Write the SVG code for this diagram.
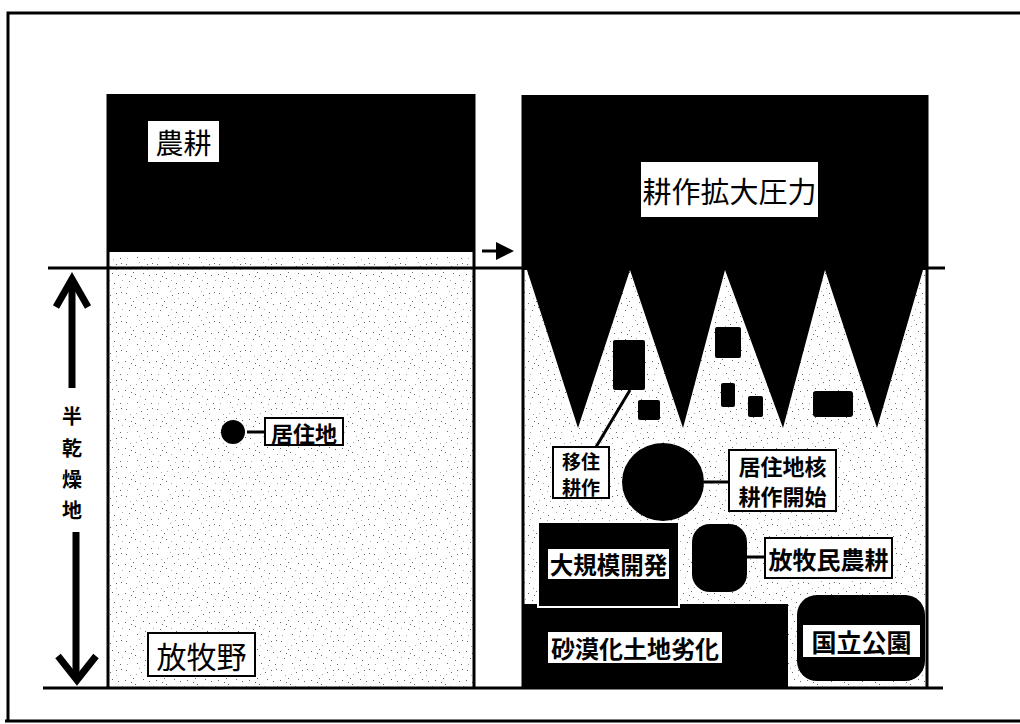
<svg xmlns="http://www.w3.org/2000/svg" width="1020" height="724" viewBox="0 0 1020 724">
<style>
.t{font-family:"Noto Sans CJK JP","Noto Sans CJK SC",sans-serif;text-anchor:middle;dominant-baseline:central;fill:#000}
.b{font-weight:bold}
.lbl{fill:#fff;stroke:#000;stroke-width:2}
.wb{fill:#fff}
.blk{fill:#000}
.ln{stroke:#000;stroke-width:3;fill:none}
</style>
<defs>
<pattern id="stip" width="31" height="29" patternUnits="userSpaceOnUse">
<rect width="31" height="29" fill="#fff"/>
<g fill="#666">
<rect x="2" y="3" width="1" height="1"/><rect x="9" y="11" width="1" height="1"/><rect x="17" y="5" width="1" height="1"/>
<rect x="25" y="14" width="1" height="1"/><rect x="5" y="20" width="1" height="1"/><rect x="13" y="25" width="1" height="1"/>
<rect x="21" y="22" width="1" height="1"/><rect x="28" y="2" width="1" height="1"/><rect x="11" y="17" width="1" height="1"/>
<rect x="19" y="12" width="1" height="1"/><rect x="27" y="26" width="1" height="1"/><rect x="1" y="13" width="1" height="1"/>
<rect x="7" y="15" width="1" height="1"/><rect x="23" y="3" width="1" height="1"/>
</g>
<g fill="#aaa">
<rect x="6" y="8" width="1" height="1"/><rect x="15" y="1" width="1" height="1"/><rect x="23" y="8" width="1" height="1"/>
<rect x="3" y="26" width="1" height="1"/><rect x="16" y="19" width="1" height="1"/><rect x="29" y="19" width="1" height="1"/>
<rect x="12" y="7" width="1" height="1"/><rect x="20" y="27" width="1" height="1"/>
</g>
</pattern>
<marker id="ah" markerWidth="6" markerHeight="6" refX="3" refY="3" orient="auto" markerUnits="strokeWidth">
<path d="M0,0 L6,3 L0,6 z" fill="#000"/>
</marker>
</defs>
<rect width="1020" height="724" fill="#fff"/>
<!-- outer frame -->
<g id="frame" class="ln">
<path d="M8,722 V13 H1020"/>
<path d="M5,721 H1020"/>
</g>
<!-- left panel -->
<g id="left-panel">
<rect x="108" y="256" width="366" height="431" fill="url(#stip)"/>
<rect x="107" y="94" width="368" height="158" class="blk"/>
<path d="M108,94 V688 M474,94 V688" class="ln"/>
</g>
<g id="node-nouko">
<rect x="148" y="121" width="71" height="41" class="wb"/>
<text x="183.5" y="141.5" class="t" font-size="28">農耕</text>
</g>
<g id="node-kyojuchi">
<circle cx="233" cy="432" r="12" class="blk"/>
<rect x="265" y="418" width="78" height="27" class="lbl"/>
<text x="304" y="431.5" class="t b" font-size="22">居住地</text>
</g>
<g id="node-houbokuya">
<rect x="148" y="633" width="107" height="43" class="lbl"/>
<text x="201.5" y="654.5" class="t" font-size="30">放牧野</text>
</g>
<!-- right panel -->
<g id="right-panel">
<rect x="523" y="268" width="404" height="419" fill="url(#stip)"/>
<path class="blk" d="M522,95 H927 V270 H923 L877,428 L825,270 L783,428 L725,270 L683,428 L630,270 L578,428 L527,270 H522 Z"/>
<path d="M523,95 V688 M927,95 V688" class="ln"/>
<rect x="613" y="340" width="32" height="50" rx="2" class="blk"/>
<rect x="638" y="400" width="22" height="20" rx="2" class="blk"/>
<rect x="715" y="327" width="26" height="31" rx="2" class="blk"/>
<rect x="721" y="383" width="14" height="24" rx="2" class="blk"/>
<rect x="748" y="396" width="15" height="21" rx="2" class="blk"/>
<rect x="813" y="391" width="40" height="26" rx="3" class="blk"/>
</g>
<g id="node-kousaku-kakudai">
<rect x="641" y="162" width="177" height="55" class="wb"/>
<text x="729.5" y="189.5" class="t" font-size="29">耕作拡大圧力</text>
</g>
<g id="node-ijuu">
<rect x="553" y="447" width="56" height="51" class="lbl"/>
<text x="581" y="460" class="t b" font-size="19">移住</text>
<text x="581" y="486" class="t b" font-size="19">耕作</text>
</g>
<g id="node-kaku">
<ellipse cx="663" cy="482" rx="41" ry="39" class="blk"/>
<rect x="729" y="450" width="107" height="61" class="lbl"/>
<text x="782.5" y="465" class="t b" font-size="22">居住地核</text>
<text x="782.5" y="495" class="t b" font-size="22">耕作開始</text>
</g>
<g id="node-sabaku">
<rect x="522" y="604" width="266" height="84" class="blk"/>
<rect x="548" y="632" width="174" height="31" class="wb"/>
<text x="635" y="647.5" class="t b" font-size="24">砂漠化土地劣化</text>
</g>
<g id="node-daikibo">
<rect x="538" y="522" width="141" height="85" class="blk" stroke="#fff" stroke-width="2"/>
<rect x="548" y="549" width="121" height="30" class="wb"/>
<text x="608.5" y="564" class="t b" font-size="23.5">大規模開発</text>
</g>
<g id="node-bokumin">
<rect x="692" y="524" width="55" height="68" rx="18" class="blk"/>
<rect x="765" y="538" width="127" height="40" class="lbl"/>
<text x="828.5" y="558" class="t b" font-size="24">放牧民農耕</text>
</g>
<g id="node-kokuritsu">
<rect x="797" y="595" width="128" height="86" rx="20" class="blk"/>
<rect x="803" y="625" width="117" height="32" class="wb"/>
<text x="861.5" y="641" class="t b" font-size="25">国立公園</text>
</g>
<!-- axis label -->
<g id="axis">
<path d="M72,284 V388" stroke="#000" stroke-width="7"/>
<path d="M56,307 L72,279 L88,307" stroke="#000" stroke-width="7" fill="none"/>
<path d="M76,532 V676" stroke="#000" stroke-width="7"/>
<path d="M58,656 L77,680 L96,656" stroke="#000" stroke-width="7" fill="none"/>
<text x="72" y="415" class="t b" font-size="20">半</text>
<text x="72" y="447" class="t b" font-size="20">乾</text>
<text x="72" y="478" class="t b" font-size="20">燥</text>
<text x="72" y="509" class="t b" font-size="20">地</text>
</g>
<!-- connectors -->
<g id="connectors" class="ln">
<path d="M48,268 H945"/>
<path d="M43,688 H943"/>
<path d="M482,251 H505" marker-end="url(#ah)"/>
<path d="M247,432 H265"/>
<path d="M630,390 L596,447"/>
<path d="M704,482 H729"/>
<path d="M747,557 H765"/>
</g>
</svg>
